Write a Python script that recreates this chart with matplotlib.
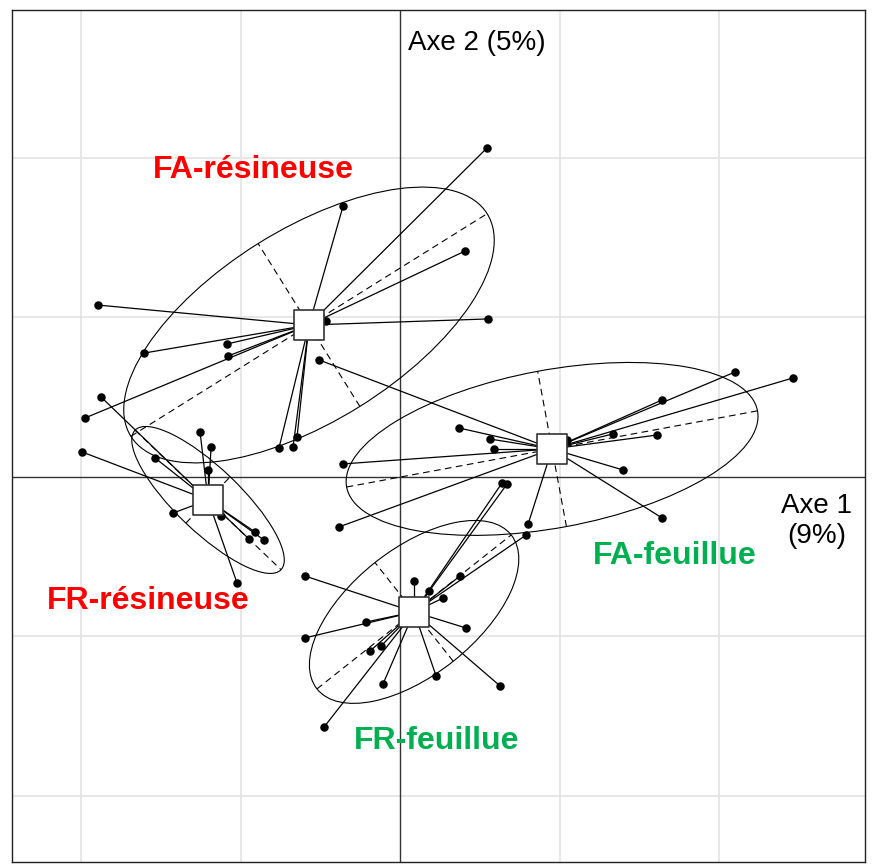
import numpy as np
import matplotlib
matplotlib.use("Agg")
import matplotlib.pyplot as plt
from matplotlib.patches import Ellipse

# ---- data (factorial map coordinates, grid step = 1) ----
groups = ["FA-résineuse", "FR-résineuse", "FA-feuillue", "FR-feuillue"]
label_colors = ["#ff0000", "#ff0000", "#00b050", "#00b050"]

fa_res_x = [0.545, -0.357, 0.408, 0.552, -1.893, -1.085, -1.605, -1.078, -1.975, -0.759, -0.671, -0.646, -0.464]
fa_res_y = [2.063, 1.699, 1.417, 0.991, 1.078, 0.834, 0.777, 0.759, 0.370, 0.182, 0.188, 0.251, 0.978]

fr_res_x = [-1.875, -1.994, -1.254, -1.185, -1.536, -1.204, -1.423, -0.909, -0.947, -0.853, -1.022, -1.122]
fr_res_y = [0.502, 0.157, 0.282, 0.188, 0.119, 0.044, -0.226, -0.345, -0.389, -0.395, -0.665, -0.245]

fa_feu_x = [2.100, 2.464, 1.643, 1.335, 1.611, 0.370, 0.564, 0.589, -0.357, 1.398, -0.382, 1.643, 0.803, -0.508, 1.047]
fa_feu_y = [0.658, 0.621, 0.483, 0.270, 0.263, 0.307, 0.238, 0.176, 0.082, 0.044, -0.313, -0.257, -0.295, 0.734, 0.232]

fr_feu_x = [-0.596, 0.088, 0.270, 0.376, -0.213, -0.596, 0.414, -0.188, -0.119, -0.107, 0.226, 0.627, -0.476, 0.790, 0.639, 0.671, 0.182]
fr_feu_y = [-0.621, -0.652, -0.759, -0.621, -0.909, -1.009, -0.947, -1.091, -1.060, -1.298, -1.248, -1.310, -1.567, -0.364, -0.038, -0.044, -0.715]

# group centres (class means)
center_x = [-0.571, -1.204, 0.953, 0.088]
center_y = [0.953, -0.144, 0.176, -0.846]

# ellipse half axes and orientation (degrees)
ell_a = [1.317, 0.633, 1.310, 0.777]
ell_b = [0.602, 0.201, 0.495, 0.395]
ell_angle = [32.0, -43.7, 10.5, 38.4]

# label positions
label_x = [-0.922, -1.580, 1.724, 0.232]
label_y = [1.925, -0.777, -0.495, -1.655]

grid_ticks = [-2, -1, 0, 1, 2]

xs = [fa_res_x, fr_res_x, fa_feu_x, fr_feu_x]
ys = [fa_res_y, fr_res_y, fa_feu_y, fr_feu_y]

fig = plt.figure(figsize=(8.75, 8.65), dpi=100)
ax = fig.add_axes([12/875, 3/865, 853/875, 852/865])
ax.set_xlim(-2.433, 2.915)
ax.set_ylim(-2.414, 2.928)
ax.set_aspect("equal")
ax.set_xticks([])
ax.set_yticks([])
for s in ax.spines.values():
    s.set_color("#222222")
    s.set_linewidth(1.0)

for t in grid_ticks:
    if t != 0:
        ax.axvline(t, color="#e3e3e3", lw=1.2, zorder=0)
        ax.axhline(t, color="#e3e3e3", lw=1.2, zorder=0)
ax.axvline(0, color="#333333", lw=1.0, zorder=1)
ax.axhline(0, color="#333333", lw=1.0, zorder=1)

for i in range(4):
    cx, cy = center_x[i], center_y[i]
    # ellipse
    e = Ellipse((cx, cy), 2 * ell_a[i], 2 * ell_b[i], angle=ell_angle[i],
                fill=False, ec="black", lw=0.8, zorder=2)
    ax.add_patch(e)
    th = np.deg2rad(ell_angle[i])
    ux, uy = np.cos(th), np.sin(th)
    vx, vy = -np.sin(th), np.cos(th)
    ax.plot([cx - ell_a[i] * ux, cx + ell_a[i] * ux], [cy - ell_a[i] * uy, cy + ell_a[i] * uy],
            color="black", lw=0.8, ls=(0, (6, 4)), zorder=2)
    ax.plot([cx - ell_b[i] * vx, cx + ell_b[i] * vx], [cy - ell_b[i] * vy, cy + ell_b[i] * vy],
            color="black", lw=0.8, ls=(0, (6, 4)), zorder=2)
    # stars
    for px, py in zip(xs[i], ys[i]):
        ax.plot([cx, px], [cy, py], color="black", lw=0.9, zorder=3)
    ax.scatter(xs[i], ys[i], s=26, color="black", zorder=4)

ax.scatter(center_x, center_y, marker="s", s=480, facecolor="white",
           edgecolor="#333333", linewidths=1.2, zorder=5)

for i in range(4):
    ax.text(label_x[i], label_y[i], groups[i], color=label_colors[i],
            fontsize=23, fontweight="bold", family="Liberation Sans",
            ha="center", va="center", zorder=6)

ax.text(0.05, 2.72, "Axe 2 (5%)", fontsize=20, family="Liberation Sans",
        ha="left", va="center", zorder=6)
ax.text(2.614, -0.276, "Axe 1\n(9%)", fontsize=20, family="Liberation Sans",
        ha="center", va="center", linespacing=1.2, zorder=6)

fig.savefig("out.png", dpi=100)
